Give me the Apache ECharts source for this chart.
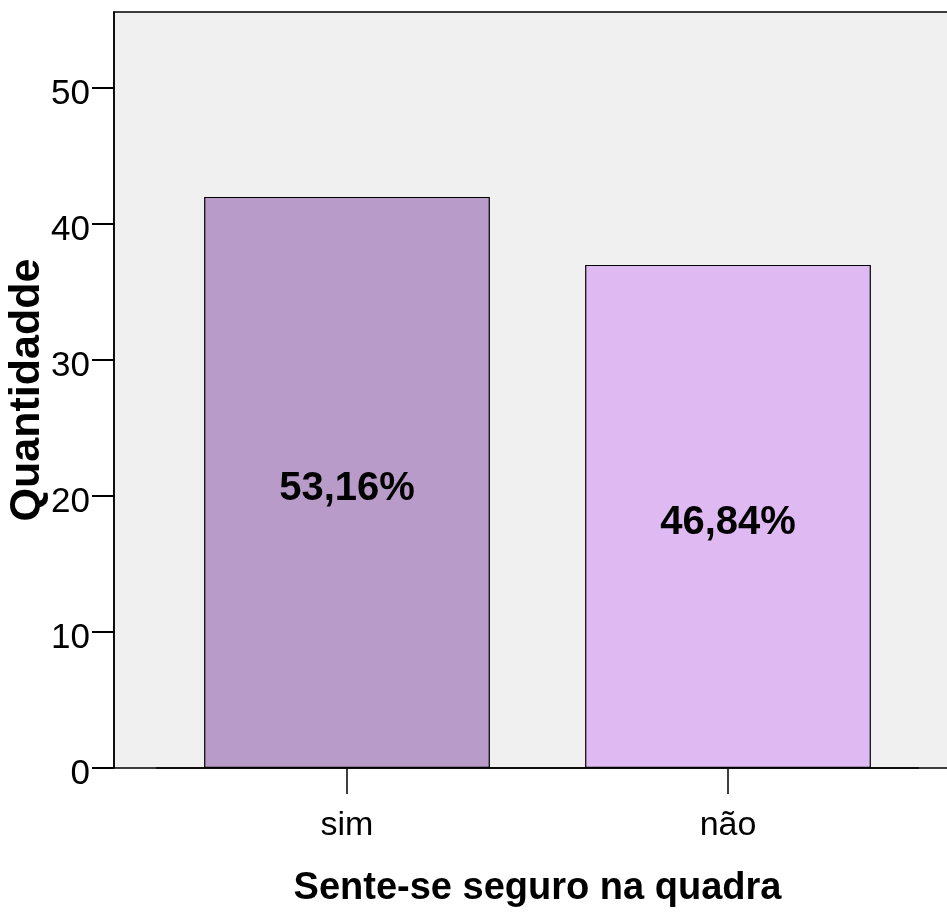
<!DOCTYPE html>
<html>
<head>
<meta charset="utf-8">
<script src="https://cdn.jsdelivr.net/npm/echarts@6/dist/echarts.min.js"></script>
<style>
html,body{margin:0;padding:0;background:#fff;}
#chart{width:947px;height:913px;}
</style>
</head>
<body>
<div id="chart"></div>
<script>
const categories = ['sim', 'não'];
const counts = [42, 37];
const barColors = ['#b89bc9', '#dfb9f2'];
const yTicksMax = 55.6;
const yTickStep = 10;
const xTitle = 'Sente-se seguro na quadra';
const yTitle = 'Quantidadde';

const total = counts.reduce((a, b) => a + b, 0);
const narrow = "'Liberation Sans Narrow', 'Arial Narrow', 'Liberation Sans', sans-serif";
const wide = "'Liberation Sans', Arial, sans-serif";

const chart = echarts.init(document.getElementById('chart'), null, {renderer: 'canvas'});
chart.setOption({
  animation: false,
  backgroundColor: '#ffffff',
  grid: [
    {left: 114, right: -6, top: 12, bottom: 145, show: true, backgroundColor: '#f0f0f0',
     borderColor: '#000', borderWidth: 1.5, outerBoundsMode: 'none', containLabel: false},
    {left: 156.5, right: 28.5, top: 12, bottom: 145, outerBoundsMode: 'none', containLabel: false}
  ],
  xAxis: [
    {gridIndex: 0, type: 'value', show: false, min: 0, max: 1},
    {gridIndex: 1, type: 'category', data: categories,
     axisLine: {show: true, lineStyle: {color: '#000', width: 1.5}},
     axisTick: {show: true, alignWithLabel: true, length: 26, lineStyle: {color: '#000', width: 1.5}},
     axisLabel: {color: '#000', fontFamily: narrow, fontSize: 34, margin: 41},
     name: xTitle, nameLocation: 'middle', nameGap: 102, nameMoveOverlap: false,
     nameTextStyle: {color: '#000', fontFamily: wide, fontWeight: 'bold', fontSize: 38}}
  ],
  yAxis: [
    {gridIndex: 0, type: 'value', min: 0, max: yTicksMax, interval: yTickStep,
     axisLine: {show: true, lineStyle: {color: '#000', width: 1.5}},
     axisTick: {show: true, length: 22, lineStyle: {color: '#000', width: 2}},
     splitLine: {show: false},
     axisLabel: {color: '#000', fontFamily: narrow, fontSize: 35, margin: 24,
       verticalAlign: 'top', lineHeight: 12, showMaxLabel: false},
     name: yTitle, nameLocation: 'middle', nameGap: 65, nameRotate: 90, nameMoveOverlap: false,
     nameTextStyle: {color: '#000', fontFamily: wide, fontWeight: 'bold', fontSize: 43}},
    {gridIndex: 1, type: 'value', min: 0, max: yTicksMax, show: false, splitLine: {show: false}}
  ],
  series: [{
    type: 'bar',
    xAxisIndex: 1,
    yAxisIndex: 1,
    barWidth: '75%',
    data: counts.map((v, i) => ({value: v, itemStyle: {color: barColors[i]}})),
    itemStyle: {borderColor: '#000', borderWidth: 1.2},
    label: {
      show: true, position: 'inside', offset: [0, 7], color: '#000',
      fontFamily: narrow, fontWeight: 'bold', fontSize: 40,
      formatter: p => (p.value / total * 100).toFixed(2).replace('.', ',') + '%'
    }
  }]
});
</script>
</body>
</html>
